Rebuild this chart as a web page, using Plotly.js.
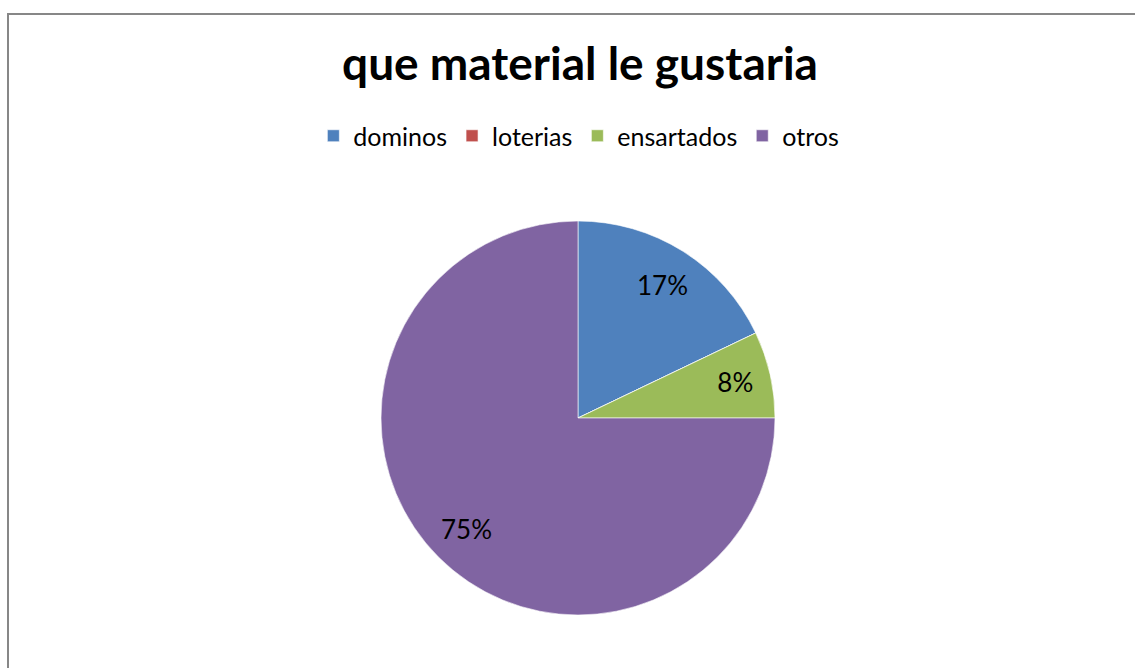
<!DOCTYPE html>
<html>
<head>
<meta charset="utf-8">
<script src="https://cdn.plot.ly/plotly-3.0.1.min.js"></script>
<style>
html,body{margin:0;padding:0;overflow:hidden;background:#fff;}
#wrap{position:relative;width:1135px;height:668px;}
#chart{width:1135px;height:668px;}
#frame{position:absolute;left:7px;top:13px;width:1200px;height:700px;border-left:2px solid #878787;border-top:2px solid #878787;pointer-events:none;}
</style>
</head>
<body>
<div id="wrap"><div id="chart"></div><div id="frame"></div></div>
<script>
const categories = ["dominos", "loterias", "ensartados", "otros"];
const values = [17.9, 0, 7.1, 75];
const labelsShown = ["17%", "", "8%", "75%"];
const colors = ["#4F81BD", "#C0504D", "#9BBB59", "#8064A2"];

const W = 1135, H = 668;
const cx = 578, cy = 418, r = 197;
const font = "Lato, 'Open Sans', sans-serif";

// label placement derived from data: mid-angle of each slice, 0.8 of radius (like the source)
const total = values.reduce((a, b) => a + b, 0);
const annotations = [];
const insideText = [];
let cum = 0;
values.forEach((v, i) => {
  const mid = (cum + v / 2) / total * 2 * Math.PI;
  cum += v;
  const frac = v / total;
  if (labelsShown[i] && frac > 0.12) {
    const px = cx + 0.8 * r * Math.sin(mid);
    const py = cy - 0.8 * r * Math.cos(mid);
    annotations.push({x: px / W, y: 1 - py / H, xref: "paper", yref: "paper", text: labelsShown[i],
      showarrow: false, xanchor: "center", yanchor: "middle", font: {family: font, size: 26, color: "#000"}});
    insideText.push("");
  } else {
    insideText.push(labelsShown[i]);
  }
});

Plotly.newPlot("chart", [{
  type: "pie",
  labels: categories,
  values: values,
  text: insideText,
  textinfo: "text",
  textposition: "inside",
  insidetextorientation: "horizontal",
  textfont: {family: font, size: 26, color: "#000"},
  marker: {colors: colors, line: {color: "#ffffff", width: 0.6}},
  sort: false,
  direction: "clockwise",
  rotation: 0,
  showlegend: true,
  hoverinfo: "label+percent",
  domain: {x: [(cx - r) / W, (cx + r) / W], y: [1 - (cy + r) / H, 1 - (cy - r) / H]}
}], {
  width: W, height: H,
  margin: {l: 0, r: 0, t: 0, b: 0},
  paper_bgcolor: "#fff",
  annotations: annotations,
  title: {text: "<b>que material le gustaria</b>", x: 0.511, xanchor: "center", y: 1 - 64 / H, yanchor: "middle",
          font: {family: font, size: 46, color: "#000"}},
  legend: {orientation: "h", x: 0.51, xanchor: "center", y: 1 - 136 / H, yanchor: "middle",
           font: {family: font, size: 25, color: "#000"},
           itemwidth: 30, tracegroupgap: 0}
}, {displayModeBar: false});
</script>
</body>
</html>
